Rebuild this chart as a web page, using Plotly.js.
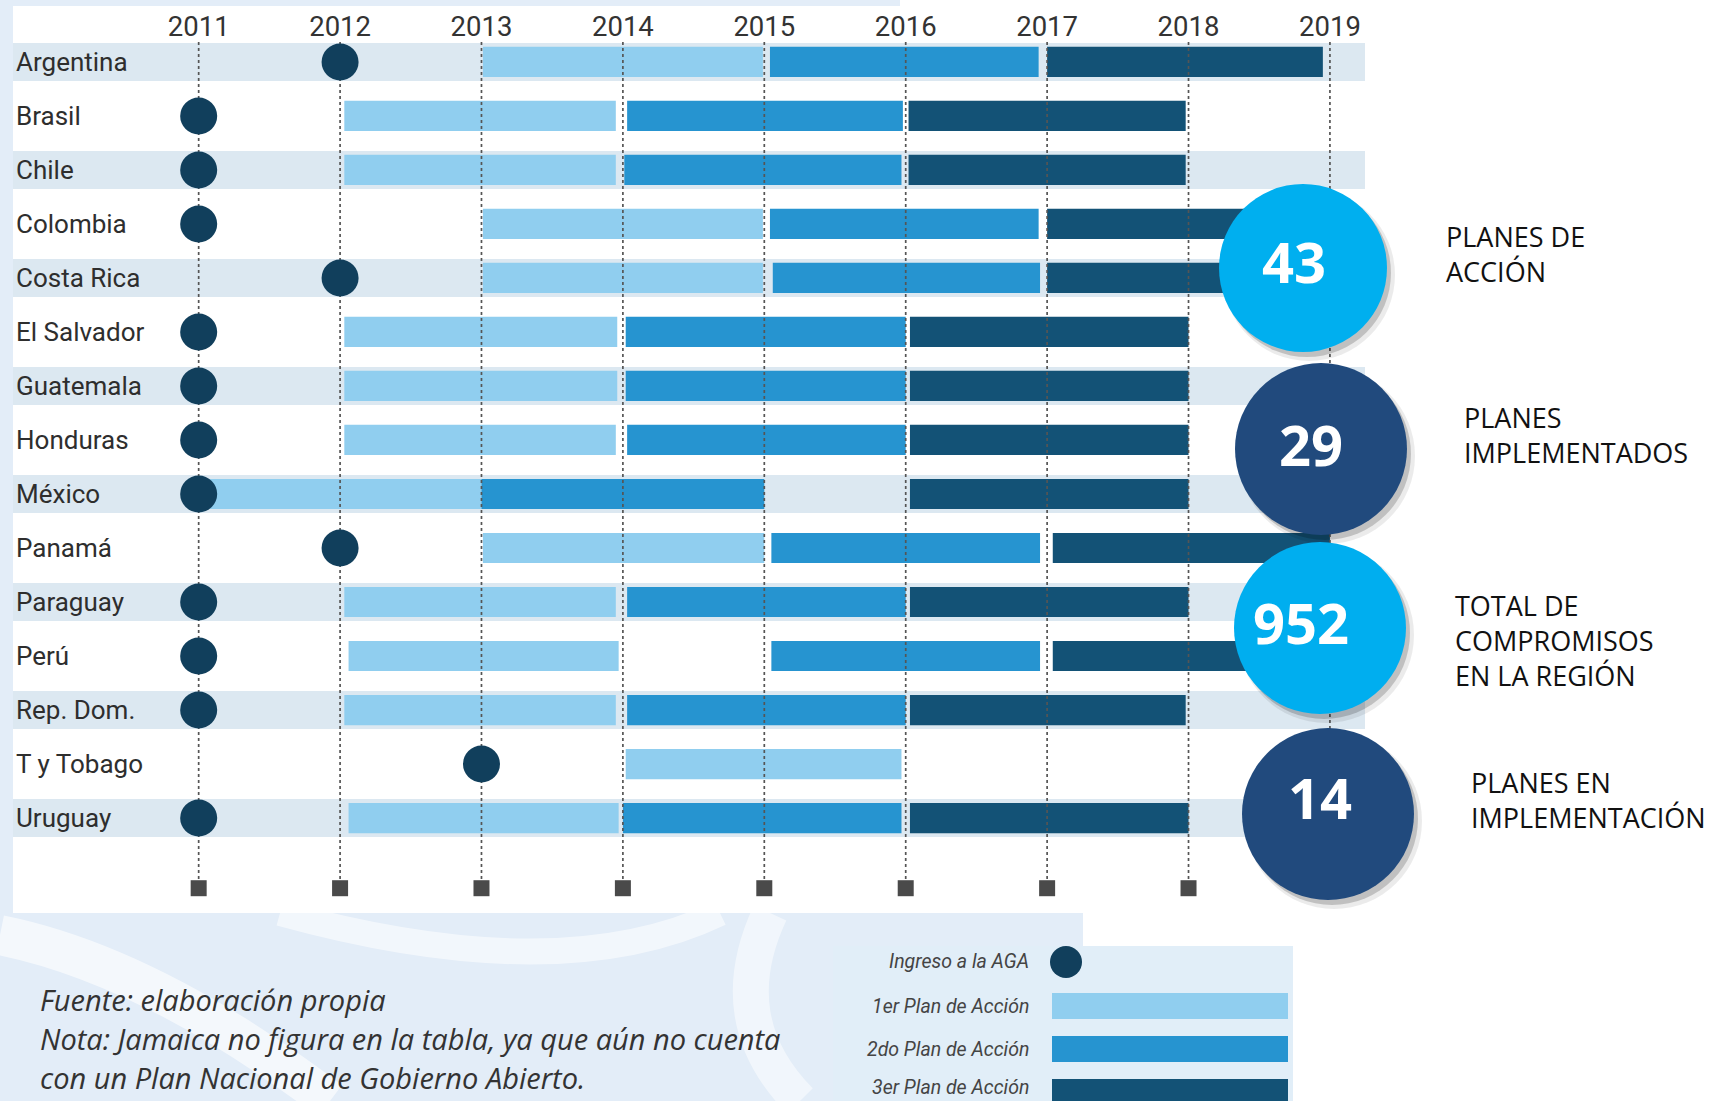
<!DOCTYPE html>
<html><head><meta charset="utf-8">
<script src="https://cdn.plot.ly/plotly-3.0.1.min.js"></script>
<style>html,body{margin:0;padding:0;background:#fff;} #chart{width:1716px;height:1101px;}</style>
</head><body><div id="chart"></div>
<script>
// ---------------- DATA ----------------
const countries = ['Argentina','Brasil','Chile','Colombia','Costa Rica','El Salvador','Guatemala','Honduras','México','Panamá','Paraguay','Perú','Rep. Dom.','T y Tobago','Uruguay'];
const joinYear  = [2012, 2011, 2011, 2011, 2012, 2011, 2011, 2011, 2011, 2012, 2011, 2011, 2011, 2013, 2011];
const plan1Start = [2013.01, 2012.03, 2012.03, 2013.01, 2013.01, 2012.03, 2012.03, 2012.03, 2011.00, 2013.01, 2012.03, 2012.06, 2012.03, 2014.02, 2012.06];
const plan1End   = [2014.99, 2013.95, 2013.95, 2014.99, 2014.99, 2013.96, 2013.96, 2013.95, 2013.00, 2015.00, 2013.95, 2013.97, 2013.95, 2015.97, 2013.97];
const plan2Start = [2015.04, 2014.03, 2014.01, 2015.04, 2015.06, 2014.02, 2014.02, 2014.03, 2013.00, 2015.05, 2014.03, 2015.05, 2014.03, null,    2014.00];
const plan2End   = [2016.94, 2015.98, 2015.97, 2016.94, 2016.95, 2016.00, 2016.00, 2016.00, 2015.00, 2016.95, 2016.00, 2016.95, 2016.00, null,    2015.97];
const plan3Start = [2017.00, 2016.02, 2016.02, 2017.00, 2017.00, 2016.03, 2016.03, 2016.03, 2016.03, 2017.04, 2016.03, 2017.04, 2016.03, null,    2016.03];
const plan3End   = [2018.95, 2017.98, 2017.98, 2018.95, 2018.95, 2018.00, 2018.00, 2018.00, 2018.00, 2019.00, 2018.00, 2019.00, 2017.98, null,    2018.00];
const years = [2011, 2012, 2013, 2014, 2015, 2016, 2017, 2018, 2019];
const statValues = ['43', '29', '952', '14'];
const statLabels = ['PLANES DE<br>ACCIÓN', 'PLANES<br>IMPLEMENTADOS', 'TOTAL DE<br>COMPROMISOS<br>EN LA REGIÓN', 'PLANES EN<br>IMPLEMENTACIÓN'];
const legendLabels = ['Ingreso a la AGA', '1er Plan de Acción', '2do Plan de Acción', '3er Plan de Acción'];
const noteLines = ['Fuente: elaboración propia', 'Nota: Jamaica no figura en la tabla, ya que aún no cuenta', 'con un Plan Nacional de Gobierno Abierto.'];

// ---------------- STYLE / LAYOUT ----------------
const C1 = '#90CEEF', C2 = '#2694D0', C3 = '#135276', CDOT = '#113F5C';
const BAND = '#DCE8F1', BG = '#E3EDF8';
const M = {l: 13, r: 351, t: 42, b: 188};
const PW = 1716 - M.l - M.r, PH = 1101 - M.t - M.b;
const X = px => (px - M.l) / PW;
const Y = py => (1101 - M.b - py) / PH;
const idx = countries.map((c, i) => i);

function rectPx(x0, y0, x1, y1, color, layer) {
  return {type: 'rect', xref: 'paper', yref: 'paper', x0: X(x0), x1: X(x1), y0: Y(y1), y1: Y(y0),
          fillcolor: color, line: {width: 0}, layer: layer || 'below'};
}
function circlePx(cx, cy, r, color, layer) {
  return {type: 'circle', xref: 'paper', yref: 'paper', x0: X(cx - r), x1: X(cx + r), y0: Y(cy + r), y1: Y(cy - r),
          fillcolor: color, line: {width: 0}, layer: layer || 'above'};
}
function pathPx(pts, color, width) {
  let s = '';
  pts.forEach(p => {
    s += p[0];
    for (let k = 1; k < p.length; k += 2) s += ' ' + X(p[k]).toFixed(5) + ',' + Y(p[k + 1]).toFixed(5) + ' ';
  });
  return {type: 'path', xref: 'paper', yref: 'paper', path: s, line: {color: color, width: width}, layer: 'below'};
}

const traces = [];
// dotted vertical year lines
years.forEach(yr => {
  traces.push({type: 'scatter', mode: 'lines', x: [yr, yr], y: [-0.37, 15.3], hoverinfo: 'skip',
    line: {color: '#555', width: 1.7, dash: 'dot'}, showlegend: false});
});
// bottom square markers
traces.push({type: 'scatter', mode: 'markers', x: years, y: years.map(() => 15.3), hoverinfo: 'skip',
  marker: {symbol: 'square', size: 16, color: '#4a4a4a'}, showlegend: false});

function planTrace(starts, ends, color, name) {
  return {type: 'bar', orientation: 'h', name: name, y: idx, base: starts,
    x: starts.map((s, i) => s == null ? null : ends[i] - s), width: 0.56,
    marker: {color: color, line: {width: 0}}, showlegend: false,
    hovertemplate: '%{base:.0f}–%{x:.0f}<extra></extra>'};
}
traces.push(planTrace(plan1Start, plan1End, C1, legendLabels[1]));
traces.push(planTrace(plan2Start, plan2End, C2, legendLabels[2]));
traces.push(planTrace(plan3Start, plan3End, C3, legendLabels[3]));
traces.push({type: 'scatter', mode: 'markers', name: legendLabels[0], x: joinYear, y: idx,
  marker: {size: 37, color: CDOT}, showlegend: false});

// shapes
const shapes = [];
// background decorations
shapes.push(rectPx(0, 0, 13, 913, BG));
shapes.push(rectPx(0, 913, 1083, 1101, BG));
shapes.push(rectPx(0, 0, 900, 6, BG));
shapes.push(pathPx([['M', 0, 935], ['Q', 150, 965, 330, 1101]], 'rgba(255,255,255,0.6)', 40));
shapes.push(pathPx([['M', 280, 913], ['Q', 560, 990, 720, 913]], 'rgba(255,255,255,0.55)', 26));
shapes.push(pathPx([['M', 770, 913], ['Q', 720, 1020, 800, 1101]], 'rgba(255,255,255,0.5)', 36));
// row bands
idx.forEach(i => {
  if (i % 2 === 0) shapes.push({type: 'rect', xref: 'paper', yref: 'y', x0: 0, x1: 1, y0: i - 0.35, y1: i + 0.35,
    fillcolor: BAND, line: {width: 0}, layer: 'below'});
});
// stat circles
const circ = [
  {cx: 1303, cy: 268, r: 84, color: '#00AFEF', tx: 1294, ty: 261, lx: 1444, ly: 254},
  {cx: 1321, cy: 449, r: 86, color: '#214A7D', tx: 1311, ty: 444, lx: 1462, ly: 435},
  {cx: 1320, cy: 628, r: 86, color: '#00AEEF', tx: 1301, ty: 622, lx: 1453, ly: 640},
  {cx: 1328, cy: 814, r: 86, color: '#214A7D', tx: 1320, ty: 797, lx: 1469, ly: 800}
];
circ.forEach(c => {
  shapes.push(circlePx(c.cx + 6, c.cy + 7, c.r + 2, 'rgba(0,0,0,0.08)'));
  shapes.push(circlePx(c.cx + 4, c.cy + 5, c.r, 'rgba(0,0,0,0.18)'));
  shapes.push(circlePx(c.cx, c.cy, c.r, c.color));
});
// legend box
shapes.push(rectPx(833, 946, 1293, 1101, '#E1EEF8', 'above'));
shapes.push(circlePx(1066, 962, 16, CDOT, 'above'));
shapes.push(rectPx(1052, 993, 1288, 1019, C1, 'above'));
shapes.push(rectPx(1052, 1036, 1288, 1062, C2, 'above'));
shapes.push(rectPx(1052, 1079, 1288, 1105, C3, 'above'));

// annotations
const ann = [];
circ.forEach((c, i) => {
  ann.push({xref: 'paper', yref: 'paper', x: X(c.tx), y: Y(c.ty), text: statValues[i], showarrow: false,
    xanchor: 'center', yanchor: 'middle', font: {family: 'Open Sans', size: 56, color: '#fff', weight: 700}});
  ann.push({xref: 'paper', yref: 'paper', x: X(c.lx), y: Y(c.ly), text: statLabels[i], showarrow: false,
    xanchor: 'left', yanchor: 'middle', align: 'left', font: {family: 'Open Sans', size: 27, color: '#111'}});
});
const legY = [962, 1006, 1049, 1087];
legendLabels.forEach((t, i) => {
  ann.push({xref: 'paper', yref: 'paper', x: X(1031), y: Y(legY[i]), text: t, showarrow: false,
    xanchor: 'right', yanchor: 'middle', font: {family: 'Roboto', size: 19.5, color: '#444', style: 'italic'}});
});
const noteY = [999, 1038, 1077];
noteLines.forEach((t, i) => {
  ann.push({xref: 'paper', yref: 'paper', x: X(38), y: Y(noteY[i]), text: t, showarrow: false,
    xanchor: 'left', yanchor: 'middle', font: {family: 'Open Sans', size: 29, color: '#333', style: 'italic'}});
});

const layout = {
  width: 1716, height: 1101,
  margin: M,
  paper_bgcolor: '#ffffff', plot_bgcolor: 'rgba(0,0,0,0)',
  barmode: 'overlay', showlegend: false,
  xaxis: {range: [2009.687, 2019.248], side: 'top', tickvals: years, ticktext: years.map(String),
    showgrid: false, zeroline: false, showline: false, ticks: '', fixedrange: true,
    tickfont: {family: 'Roboto', size: 27.5, color: '#333'}},
  yaxis: {range: [15.759, -0.37], tickvals: idx, ticktext: countries, ticklabelposition: 'inside',
    showgrid: false, zeroline: false, showline: false, ticks: '', fixedrange: true,
    tickfont: {family: 'Roboto', size: 26, color: '#2e2e2e'}},
  shapes: shapes, annotations: ann
};
Plotly.newPlot('chart', traces, layout, {displayModeBar: false, staticPlot: true});
</script></body></html>
